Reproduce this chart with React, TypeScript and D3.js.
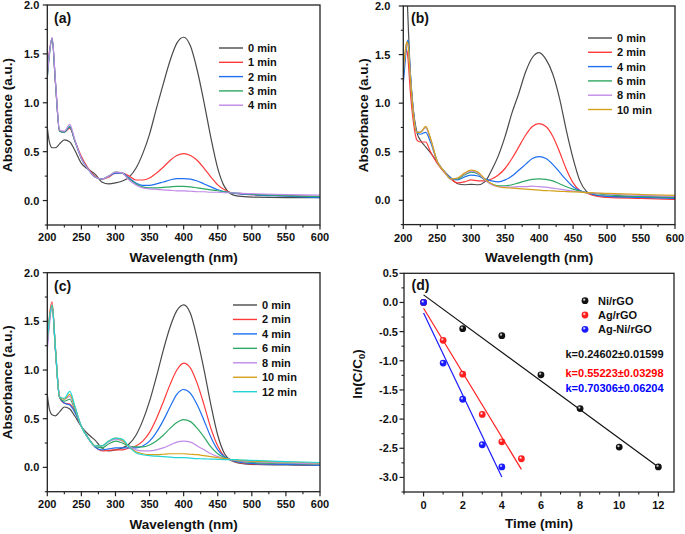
import React from "react";
import * as d3 from "d3";

// ---------- Data ----------
const WL_AC = [200, 203, 207, 212, 218, 225, 233, 240, 250, 260, 270, 280, 290, 300, 310, 320, 330, 340, 350, 360, 370, 380, 390, 400, 410, 420, 430, 440, 450, 460, 470, 480, 500, 550, 600];
const WL_B = [200, 203, 205, 207, 210, 215, 220, 225, 233, 240, 250, 260, 270, 280, 290, 300, 310, 320, 330, 340, 350, 360, 370, 380, 390, 400, 410, 420, 430, 440, 450, 460, 470, 480, 500, 550, 600];

// Panel (a) Ni/rGO
const A_LABELS = ["0 min", "1 min", "2 min", "3 min", "4 min"];
const A_0 = [0.75, 0.6, 0.54, 0.54, 0.58, 0.62, 0.6, 0.52, 0.38, 0.32, 0.27, 0.19, 0.17, 0.18, 0.2, 0.24, 0.33, 0.48, 0.68, 0.94, 1.19, 1.43, 1.61, 1.67, 1.58, 1.33, 1.0, 0.64, 0.33, 0.14, 0.065, 0.045, 0.035, 0.03, 0.03];
const A_1 = [1.3, 1.52, 1.66, 1.2, 0.71, 0.7, 0.74, 0.62, 0.45, 0.33, 0.25, 0.22, 0.24, 0.28, 0.28, 0.25, 0.21, 0.21, 0.23, 0.28, 0.34, 0.41, 0.46, 0.48, 0.46, 0.41, 0.33, 0.24, 0.16, 0.11, 0.08, 0.07, 0.06, 0.05, 0.04];
const A_2 = [1.28, 1.5, 1.66, 1.2, 0.71, 0.7, 0.75, 0.62, 0.43, 0.32, 0.24, 0.22, 0.25, 0.28, 0.28, 0.23, 0.18, 0.155, 0.155, 0.17, 0.19, 0.21, 0.225, 0.225, 0.22, 0.2, 0.17, 0.14, 0.11, 0.09, 0.08, 0.07, 0.06, 0.045, 0.03];
const A_3 = [1.25, 1.48, 1.66, 1.2, 0.71, 0.7, 0.76, 0.62, 0.43, 0.32, 0.24, 0.22, 0.25, 0.29, 0.28, 0.22, 0.17, 0.14, 0.13, 0.13, 0.135, 0.14, 0.145, 0.145, 0.14, 0.13, 0.12, 0.11, 0.1, 0.09, 0.08, 0.075, 0.065, 0.05, 0.04];
const A_4 = [1.27, 1.5, 1.67, 1.22, 0.72, 0.71, 0.78, 0.63, 0.43, 0.32, 0.24, 0.22, 0.25, 0.29, 0.28, 0.21, 0.16, 0.13, 0.12, 0.115, 0.11, 0.105, 0.1, 0.1, 0.095, 0.09, 0.09, 0.085, 0.085, 0.08, 0.08, 0.075, 0.07, 0.06, 0.055];

// Panel (b) Ag/rGO
const B_LABELS = ["0 min", "2 min", "4 min", "6 min", "8 min", "10 min"];
const B_0 = [2.6, 2.4, 2.2, 1.85, 1.35, 0.92, 0.7, 0.62, 0.55, 0.49, 0.39, 0.3, 0.23, 0.17, 0.16, 0.165, 0.16, 0.19, 0.31, 0.46, 0.66, 0.9, 1.1, 1.32, 1.47, 1.52, 1.45, 1.3, 1.05, 0.72, 0.43, 0.2, 0.09, 0.055, 0.04, 0.035, 0.03];
const B_2 = [1.25, 1.5, 1.55, 1.45, 1.15, 0.8, 0.62, 0.6, 0.6, 0.5, 0.38, 0.29, 0.22, 0.18, 0.19, 0.21, 0.2, 0.2, 0.22, 0.26, 0.33, 0.43, 0.55, 0.67, 0.76, 0.79, 0.76, 0.66, 0.5, 0.32, 0.18, 0.1, 0.075, 0.05, 0.03, 0.02, 0.01];
const B_4 = [1.2, 1.45, 1.6, 1.65, 1.35, 0.9, 0.7, 0.68, 0.7, 0.6, 0.4, 0.3, 0.23, 0.21, 0.24, 0.26, 0.25, 0.22, 0.2, 0.19, 0.21, 0.25, 0.31, 0.37, 0.43, 0.45, 0.43, 0.37, 0.29, 0.21, 0.14, 0.1, 0.08, 0.06, 0.04, 0.03, 0.02];
const B_6 = [1.3, 1.5, 1.62, 1.62, 1.3, 0.88, 0.7, 0.7, 0.75, 0.63, 0.4, 0.3, 0.22, 0.22, 0.26, 0.29, 0.27, 0.21, 0.17, 0.15, 0.15, 0.16, 0.18, 0.2, 0.215, 0.22, 0.215, 0.2, 0.17, 0.14, 0.115, 0.095, 0.08, 0.07, 0.055, 0.04, 0.03];
const B_8 = [1.32, 1.52, 1.62, 1.6, 1.3, 0.88, 0.7, 0.7, 0.75, 0.63, 0.4, 0.3, 0.22, 0.23, 0.27, 0.3, 0.28, 0.21, 0.16, 0.14, 0.135, 0.135, 0.14, 0.14, 0.145, 0.14, 0.135, 0.125, 0.115, 0.105, 0.095, 0.088, 0.08, 0.075, 0.065, 0.05, 0.04];
const B_10 = [1.35, 1.55, 1.63, 1.6, 1.3, 0.88, 0.7, 0.7, 0.76, 0.64, 0.4, 0.3, 0.22, 0.23, 0.28, 0.31, 0.29, 0.22, 0.17, 0.14, 0.13, 0.125, 0.12, 0.115, 0.11, 0.105, 0.1, 0.097, 0.093, 0.09, 0.087, 0.084, 0.08, 0.078, 0.072, 0.06, 0.05];

// Panel (c) Ag-Ni/rGO
const C_LABELS = ["0 min", "2 min", "4 min", "6 min", "8 min", "10 min", "12 min"];
const C_0 = [0.75, 0.6, 0.54, 0.53, 0.57, 0.62, 0.6, 0.53, 0.42, 0.34, 0.28, 0.2, 0.17, 0.18, 0.2, 0.24, 0.33, 0.48, 0.68, 0.93, 1.2, 1.44, 1.61, 1.67, 1.58, 1.32, 1.0, 0.64, 0.33, 0.14, 0.07, 0.045, 0.03, 0.025, 0.02];
const C_2 = [1.3, 1.55, 1.7, 1.2, 0.72, 0.66, 0.65, 0.58, 0.42, 0.3, 0.21, 0.17, 0.175, 0.18, 0.18, 0.2, 0.22, 0.27, 0.36, 0.5, 0.67, 0.85, 1.0, 1.07, 1.02, 0.86, 0.64, 0.4, 0.22, 0.11, 0.07, 0.05, 0.035, 0.03, 0.02];
const C_4 = [1.25, 1.5, 1.66, 1.2, 0.72, 0.66, 0.64, 0.57, 0.42, 0.3, 0.21, 0.18, 0.19, 0.2, 0.2, 0.2, 0.2, 0.22, 0.27, 0.36, 0.48, 0.62, 0.75, 0.8, 0.76, 0.64, 0.48, 0.31, 0.18, 0.11, 0.075, 0.055, 0.04, 0.03, 0.02];
const C_6 = [1.28, 1.5, 1.66, 1.2, 0.72, 0.68, 0.7, 0.6, 0.42, 0.3, 0.22, 0.2, 0.24, 0.27, 0.25, 0.22, 0.21, 0.21, 0.23, 0.27, 0.33, 0.4, 0.46, 0.49, 0.47, 0.4, 0.31, 0.21, 0.14, 0.1, 0.08, 0.065, 0.05, 0.04, 0.03];
const C_8 = [1.2, 1.45, 1.65, 1.22, 0.73, 0.7, 0.73, 0.62, 0.42, 0.3, 0.22, 0.22, 0.26, 0.29, 0.27, 0.22, 0.18, 0.17, 0.17, 0.18, 0.2, 0.23, 0.26, 0.27, 0.26, 0.22, 0.18, 0.14, 0.11, 0.09, 0.08, 0.07, 0.06, 0.045, 0.035];
const C_10 = [1.3, 1.52, 1.67, 1.22, 0.72, 0.7, 0.75, 0.63, 0.42, 0.3, 0.22, 0.22, 0.27, 0.3, 0.28, 0.21, 0.16, 0.14, 0.13, 0.13, 0.135, 0.14, 0.14, 0.14, 0.135, 0.13, 0.12, 0.11, 0.1, 0.09, 0.08, 0.075, 0.065, 0.055, 0.045];
const C_12 = [1.3, 1.52, 1.67, 1.22, 0.72, 0.71, 0.78, 0.64, 0.42, 0.3, 0.22, 0.22, 0.27, 0.3, 0.29, 0.21, 0.15, 0.13, 0.12, 0.115, 0.11, 0.105, 0.1, 0.1, 0.095, 0.09, 0.088, 0.085, 0.083, 0.08, 0.08, 0.078, 0.072, 0.06, 0.05];

// Panel (d) kinetics
const D_LABELS = ["Ni/rGO", "Ag/rGO", "Ag-Ni/rGO"];
const D_NI_T = [0, 2, 4, 6, 8, 10, 12];
const D_NI_V = [0, -0.45, -0.57, -1.24, -1.82, -2.48, -2.82];
const D_AG_T = [0, 1, 2, 3, 4, 5];
const D_AG_V = [0, -0.65, -1.23, -1.92, -2.39, -2.68];
const D_AGNI_T = [0, 1, 2, 3, 4];
const D_AGNI_V = [0, -1.04, -1.66, -2.44, -2.82];
const D_SLOPES = [-0.24602, -0.55223, -0.70306];
const D_INTERCEPTS = [0.13, -0.1, -0.18];
const D_FIT_END = [12, 5, 4];
const D_K_TEXT = ["k=0.24602±0.01599", "k=0.55223±0.03298", "k=0.70306±0.06204"];

// Ticks
const WL_TICKS = [200, 250, 300, 350, 400, 450, 500, 550, 600];
const WL_MINOR = [225, 275, 325, 375, 425, 475, 525, 575];
const ABS_TICKS = [0, 0.5, 1.0, 1.5, 2.0];
const ABS_MINOR = [-0.25, 0.25, 0.75, 1.25, 1.75];
const T_TICKS = [0, 2, 4, 6, 8, 10, 12];
const T_MINOR = [-1, 1, 3, 5, 7, 9, 11];
const LN_TICKS = [-3.0, -2.5, -2.0, -1.5, -1.0, -0.5, 0.0, 0.5];
const LN_MINOR = [-3.25, -2.75, -2.25, -1.75, -1.25, -0.75, -0.25, 0.25];

// ---------- Styles ----------
const FONT = "'Liberation Sans', Arial, Helvetica, sans-serif";
const COL = {
  gray: "#4a4a4a",
  red: "#ff3a3a",
  blue: "#1f6ff0",
  green: "#2ea863",
  purple: "#c08ae8",
  orange: "#d6a21c",
  cyan: "#22d4d4",
};
const FRAME = "#222";

type Frame = { left: number; right: number; top: number; bottom: number };

function Axes(props: {
  id: string;
  f: Frame;
  x: d3.ScaleLinear<number, number>;
  y: d3.ScaleLinear<number, number>;
  xTicks: number[];
  xMinor: number[];
  yTicks: number[];
  yMinor: number[];
  xFmt: (v: number) => string;
  yFmt: (v: number) => string;
  xLabelDy: number;
  yLabelGap: number;
  xTitle: string;
  xTitleY: number;
  yTitle: React.ReactNode;
  yTitleX: number;
  yTitleY: number;
  panelLabel: string;
  panelLabelPos: [number, number];
  children?: React.ReactNode;
}) {
  const { f, x, y } = props;
  const xMid = (f.left + f.right) / 2;
  return (
    <g>
      <defs>
        <clipPath id={props.id}>
          <rect x={f.left} y={f.top} width={f.right - f.left} height={f.bottom - f.top} />
        </clipPath>
      </defs>
      <g clipPath={`url(#${props.id})`}>{props.children}</g>
      <rect x={f.left} y={f.top} width={f.right - f.left} height={f.bottom - f.top} fill="none" stroke={FRAME} strokeWidth={1.3} />
      {props.xTicks.map((t) => (
        <g key={"xt" + t}>
          <line x1={x(t)} x2={x(t)} y1={f.bottom} y2={f.bottom + 4.5} stroke={FRAME} strokeWidth={1.2} />
          <text x={x(t)} y={f.bottom + props.xLabelDy} textAnchor="middle" fontSize={11} fontWeight="bold" fontFamily={FONT} fill="#111">
            {props.xFmt(t)}
          </text>
        </g>
      ))}
      {props.xMinor.map((t) => (
        <line key={"xm" + t} x1={x(t)} x2={x(t)} y1={f.bottom} y2={f.bottom + 2.5} stroke={FRAME} strokeWidth={1.1} />
      ))}
      {props.yTicks.map((t) => (
        <g key={"yt" + t}>
          <line x1={f.left - 4.5} x2={f.left} y1={y(t)} y2={y(t)} stroke={FRAME} strokeWidth={1.2} />
          <text x={f.left - props.yLabelGap} y={y(t) + 4} textAnchor="end" fontSize={11} fontWeight="bold" fontFamily={FONT} fill="#111">
            {props.yFmt(t)}
          </text>
        </g>
      ))}
      {props.yMinor.map((t) => (
        <line key={"ym" + t} x1={f.left - 2.5} x2={f.left} y1={y(t)} y2={y(t)} stroke={FRAME} strokeWidth={1.1} />
      ))}
      <text x={xMid} y={props.xTitleY} textAnchor="middle" fontSize={13.5} fontWeight="bold" fontFamily={FONT} fill="#111">
        {props.xTitle}
      </text>
      <text
        transform={`translate(${props.yTitleX},${props.yTitleY}) rotate(-90)`}
        textAnchor="middle"
        fontSize={13.5}
        fontWeight="bold"
        fontFamily={FONT}
        fill="#111"
      >
        {props.yTitle}
      </text>
      <text x={props.panelLabelPos[0]} y={props.panelLabelPos[1]} fontSize={14} fontWeight="bold" fontFamily={FONT} fill="#111">
        {props.panelLabel}
      </text>
    </g>
  );
}

function SpectraPanel(props: {
  id: string;
  f: Frame;
  wl: number[];
  series: number[][];
  colors: string[];
  labels: string[];
  legendX: number;
  legendY0: number;
  legendDy: number;
  yLabelGap: number;
  xLabelDy: number;
  xTitleY: number;
  yTitleX: number;
  panelLabel: string;
  panelLabelPos: [number, number];
}) {
  const { f } = props;
  const x = d3.scaleLinear().domain([200, 600]).range([f.left, f.right]);
  const y = d3.scaleLinear().domain([-0.25, 2.0]).range([f.bottom, f.top]);
  const line = d3
    .line<[number, number]>()
    .x((d) => x(d[0]))
    .y((d) => y(d[1]))
    .curve(d3.curveMonotoneX);
  const fmt = d3.format(".1f");
  return (
    <g>
      <Axes
        id={props.id}
        f={f}
        x={x}
        y={y}
        xTicks={WL_TICKS}
        xMinor={WL_MINOR}
        yTicks={ABS_TICKS}
        yMinor={ABS_MINOR}
        xFmt={(v) => String(v)}
        yFmt={(v) => fmt(v)}
        xLabelDy={props.xLabelDy}
        yLabelGap={props.yLabelGap}
        xTitle="Wavelength (nm)"
        xTitleY={props.xTitleY}
        yTitle="Absorbance (a.u.)"
        yTitleX={props.yTitleX}
        yTitleY={(f.top + f.bottom) / 2}
        panelLabel={props.panelLabel}
        panelLabelPos={props.panelLabelPos}
      >
        {props.series.map((s, i) => (
          <path
            key={i}
            d={line(props.wl.map((w, j) => [w, s[j]] as [number, number])) || ""}
            fill="none"
            stroke={props.colors[i]}
            strokeWidth={1.2}
          />
        ))}
      </Axes>
      {props.labels.map((lab, i) => {
        const ly = props.legendY0 + i * props.legendDy;
        return (
          <g key={lab}>
            <line x1={props.legendX} x2={props.legendX + 24} y1={ly} y2={ly} stroke={props.colors[i]} strokeWidth={1.4} />
            <text x={props.legendX + 29} y={ly + 4} fontSize={11} fontWeight="bold" fontFamily={FONT} fill="#111">
              {lab}
            </text>
          </g>
        );
      })}
    </g>
  );
}

function KineticsPanel() {
  const f: Frame = { left: 404, right: 674, top: 273.3, bottom: 492 };
  const x = d3.scaleLinear().domain([-1, 12.8]).range([f.left, f.right]);
  const y = d3.scaleLinear().domain([-3.25, 0.5]).range([f.bottom, f.top]);
  const fmt = d3.format(".1f");
  const colors = ["#111111", "#ff1f1f", "#1a1aff"];
  const ts = [D_NI_T, D_AG_T, D_AGNI_T];
  const vs = [D_NI_V, D_AG_V, D_AGNI_V];
  const lineFn = d3
    .line<[number, number]>()
    .x((d) => x(d[0]))
    .y((d) => y(d[1]));
  return (
    <g>
      <defs>
        {colors.map((c, i) => (
          <radialGradient key={i} id={"ball" + i} cx="0.38" cy="0.35" r="0.7">
            <stop offset="0" stopColor="#ffffff" stopOpacity={0.85} />
            <stop offset="0.35" stopColor={c} />
            <stop offset="1" stopColor={c} />
          </radialGradient>
        ))}
      </defs>
      <Axes
        id="clipD"
        f={f}
        x={x}
        y={y}
        xTicks={T_TICKS}
        xMinor={T_MINOR}
        yTicks={LN_TICKS}
        yMinor={LN_MINOR}
        xFmt={(v) => String(v)}
        yFmt={(v) => fmt(v).replace("−", "-")}
        xLabelDy={17}
        yLabelGap={6}
        xTitle="Time (min)"
        xTitleY={528}
        yTitle={
          <>
            ln(C/C
            <tspan fontSize={9.5} dy={3}>
              0
            </tspan>
            <tspan dy={-3}>)</tspan>
          </>
        }
        yTitleX={362}
        yTitleY={374}
        panelLabel="(d)"
        panelLabelPos={[411.5, 290]}
      >
        {D_SLOPES.map((m, i) => (
          <path
            key={"fit" + i}
            d={lineFn([
              [0, D_INTERCEPTS[i]],
              [D_FIT_END[i], D_INTERCEPTS[i] + m * D_FIT_END[i]],
            ]) || ""}
            stroke={colors[i]}
            strokeWidth={1.2}
            fill="none"
          />
        ))}
        {ts.map((tArr, i) =>
          tArr.map((t, j) => <circle key={i + "-" + j} cx={x(t)} cy={y(vs[i][j])} r={3.4} fill={`url(#ball${i})`} />)
        )}
      </Axes>
      {D_LABELS.map((lab, i) => {
        const ly = 300.7 + i * 14.3;
        return (
          <g key={lab}>
            <circle cx={585} cy={ly} r={3.4} fill={`url(#ball${i})`} />
            <text x={598} y={ly + 4} fontSize={11} fontWeight="bold" fontFamily={FONT} fill="#111">
              {lab}
            </text>
          </g>
        );
      })}
      {D_K_TEXT.map((k, i) => (
        <text key={k} x={565.5} y={[358, 376.7, 392.3][i]} fontSize={11} fontWeight="bold" fontFamily={FONT} fill={["#111", "#ff0000", "#0000ff"][i]}>
          {k}
        </text>
      ))}
    </g>
  );
}

export default function App() {
  return (
    <svg width={685} height={534} style={{ position: "absolute", left: 0, top: 0, background: "#fff" }}>
      <SpectraPanel
        id="clipA"
        f={{ left: 47.3, right: 320, top: 5, bottom: 225 }}
        wl={WL_AC}
        series={[A_0, A_1, A_2, A_3, A_4]}
        colors={[COL.gray, COL.red, COL.blue, COL.green, COL.purple]}
        labels={A_LABELS}
        legendX={219}
        legendY0={48}
        legendDy={14.3}
        yLabelGap={8}
        xLabelDy={16}
        xTitleY={262}
        yTitleX={12}
        panelLabel="(a)"
        panelLabelPos={[54, 22.5]}
      />
      <SpectraPanel
        id="clipB"
        f={{ left: 403.3, right: 675, top: 6, bottom: 224.6 }}
        wl={WL_B}
        series={[B_0, B_2, B_4, B_6, B_8, B_10]}
        colors={[COL.gray, COL.red, COL.blue, COL.green, COL.purple, COL.orange]}
        labels={B_LABELS}
        legendX={588}
        legendY0={38}
        legendDy={14.3}
        yLabelGap={13}
        xLabelDy={17}
        xTitleY={262}
        yTitleX={368}
        panelLabel="(b)"
        panelLabelPos={[411, 22.5]}
      />
      <SpectraPanel
        id="clipC"
        f={{ left: 47.3, right: 320, top: 272.7, bottom: 491.7 }}
        wl={WL_AC}
        series={[C_0, C_2, C_4, C_6, C_8, C_10, C_12]}
        colors={[COL.gray, COL.red, COL.blue, COL.green, COL.purple, COL.orange, COL.cyan]}
        labels={C_LABELS}
        legendX={233}
        legendY0={305}
        legendDy={14.45}
        yLabelGap={8}
        xLabelDy={16.6}
        xTitleY={529}
        yTitleX={12}
        panelLabel="(c)"
        panelLabelPos={[54, 290.5]}
      />
      <KineticsPanel />
    </svg>
  );
}
